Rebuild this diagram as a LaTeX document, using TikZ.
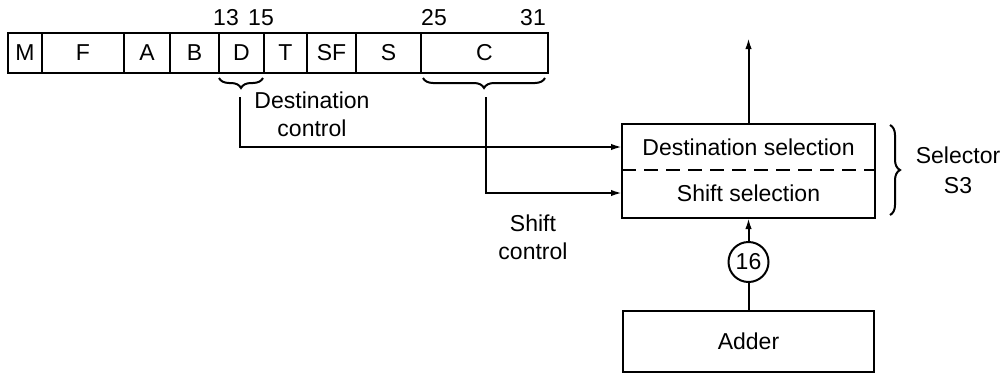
\documentclass[tikz,border=0pt]{standalone}
\usepackage{fontspec}
\setmainfont{Liberation Sans}
\usetikzlibrary{arrows.meta,decorations.pathreplacing}

\begin{document}
\begin{tikzpicture}[x=0.5pt,y=-0.5pt,line width=1pt,
  font=\fontsize{11.5}{14}\selectfont,
  field/.style={draw,inner sep=0pt,minimum height=20pt},
  box/.style={inner sep=0pt,minimum width=125.5pt},
  arr/.style={-{Latex[length=5.5pt,width=3.2pt]}},
  brace/.style={decorate,decoration={brace,amplitude=5pt}},
  bracedown/.style={decorate,decoration={brace,mirror,amplitude=5pt}}]
  \useasboundingbox (0,0) rectangle (1004,375);

  % instruction word
  \foreach \n/\c/\w in {M/25/34,F/83/82,A/147/46,B/194.5/49,D/241.5/45,
                        T/285.5/43,SF/331.5/49,S/388.5/65,C/484.5/127}
    \node[field,minimum width=\w*0.5pt] (\n) at (\c,53) {\n};

  \node (b13) at (226,18) {13};
  \node (b15) at (261,18) {15};
  \node (b25) at (434,18) {25};
  \node (b31) at (533,18) {31};

  % braces under D and C
  \draw[bracedown] (219,78) -- (263,78);
  \draw[bracedown] (423,78) -- (545,78);
  \coordinate (dtip) at (240,97);
  \coordinate (ctip) at (486,97);

  % selector S3
  \node[box,minimum height=22pt] (dsel) at (748.5,147) {Destination selection};
  \node[box,minimum height=24pt] (ssel) at (748.5,193) {Shift selection};
  \draw (dsel.north west) rectangle (ssel.south east);
  \draw[dash pattern=on 7pt off 4pt] (dsel.south west) -- (dsel.south east);
  \draw[brace] (890,125) -- (890,215);
  \node[align=center] (sel) at (958,170) {Selector\\[1pt]S3};

  \coordinate (out) at (748.5,38);
  \draw[arr] (dsel) -- (out);

  % adder
  \node[draw,box,minimum height=30.5pt] (adder) at (748.5,341.5) {Adder};
  \node[draw,circle,inner sep=0pt,minimum size=20pt] (w16) at (748.5,262) {16};
  \draw (adder) -- (w16);
  \draw[arr] (w16) -- (ssel);

  % control lines
  \draw[arr] (dtip) |- (dsel.west);
  \draw[arr] (ctip) |- (ssel.west);
  \node[align=center] (dctl) at (312,114) {Destination\\control};
  \node[align=center] (sctl) at (533,237) {Shift\\control};
\end{tikzpicture}
\end{document}
